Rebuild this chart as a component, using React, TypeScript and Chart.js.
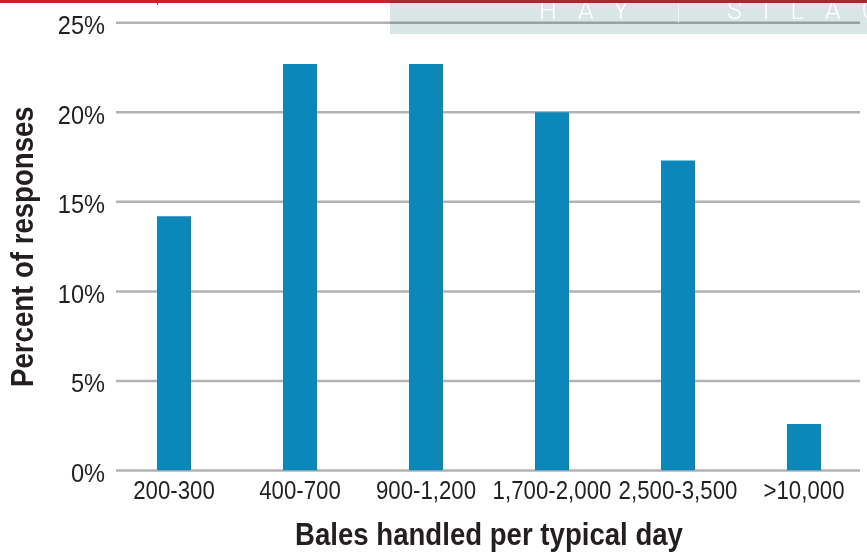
import React, { useEffect, useRef } from "react";
import { Chart, registerables } from "chart.js";

Chart.register(...registerables);

const categories = ["200-300", "400-700", "900-1,200", "1,700-2,000", "2,500-3,500", ">10,000"];
const responsePercent = [14.2, 22.7, 22.7, 20.0, 17.3, 2.6];
const yTickValues = [0, 5, 10, 15, 20, 25];
const yAxisTitle = "Percent of responses";
const xAxisTitle = "Bales handled per typical day";
const headerLeft = "HAY";
const headerRight = "SILAGE";

const FONT = "'Liberation Sans', Arial, sans-serif";
const SQUASH = 0.89;

const decorPlugin = {
  id: "decor",
  beforeDatasetsDraw(chart: any) {
    const { ctx, chartArea, scales } = chart;
    const y = scales.y;
    ctx.save();
    ctx.strokeStyle = "#b2b2b5";
    ctx.lineWidth = 2.5;
    y.ticks.forEach((t: any) => {
      const py = y.getPixelForValue(t.value);
      ctx.beginPath();
      ctx.moveTo(chartArea.left + 5, py);
      ctx.lineTo(chartArea.right - 7, py);
      ctx.stroke();
    });
    ctx.restore();
  },
  afterDraw(chart: any) {
    const { ctx, width } = chart;
    const plainFill = (ctx as any).__plainFillText || ctx.fillText.bind(ctx);
    ctx.save();
    ctx.globalCompositeOperation = "multiply";
    ctx.fillStyle = "#d8e6e5";
    ctx.fillRect(390, 0, width - 390, 34);
    ctx.globalCompositeOperation = "source-over";
    ctx.fillStyle = "#ffffff";
    ctx.font = "300 25px Roboto, 'Liberation Sans', sans-serif";
    (ctx as any).letterSpacing = "21px";
    ctx.textBaseline = "alphabetic";
    ctx.textAlign = "left";
    plainFill(headerLeft, 539, 18.5);
    plainFill(headerRight, 727, 18.5);
    (ctx as any).letterSpacing = "0px";
    ctx.strokeStyle = "rgba(255,255,255,0.55)";
    ctx.lineWidth = 1;
    ctx.beginPath();
    ctx.moveTo(678.5, 0);
    ctx.lineTo(678.5, 23);
    ctx.stroke();
    ctx.fillStyle = "#c4262e";
    ctx.fillRect(0, 0, 390, 3);
    ctx.fillRect(157, 0, 1, 5);
    ctx.fillStyle = "#a32a2f";
    ctx.fillRect(390, 0, width - 390, 3);
    ctx.restore();
  },
};

export default function App() {
  const canvasRef = useRef<HTMLCanvasElement | null>(null);

  useEffect(() => {
    const canvas = canvasRef.current;
    if (!canvas) return;
    const c2d = canvas.getContext("2d") as any;
    const plainFill = c2d.fillText.bind(c2d);
    c2d.__plainFillText = plainFill;
    // condensed look: squeeze all chart text horizontally around its anchor
    c2d.fillText = (text: string, x: number, y: number, maxWidth?: number) => {
      c2d.save();
      c2d.translate(x, y);
      c2d.scale(SQUASH, 1);
      if (maxWidth !== undefined && maxWidth !== null) plainFill(text, 0, 0, maxWidth / SQUASH);
      else plainFill(text, 0, 0);
      c2d.restore();
    };

    const chart = new Chart(canvas, {
      type: "bar",
      data: {
        labels: categories,
        datasets: [
          {
            data: responsePercent,
            backgroundColor: "#0b87b9",
            borderWidth: 0,
            categoryPercentage: 1,
            barPercentage: 0.27,
          },
        ],
      },
      options: {
        animation: false,
        responsive: true,
        maintainAspectRatio: false,
        layout: { padding: { top: 22.7, left: 0, right: 0, bottom: 0 } },
        plugins: { legend: { display: false }, tooltip: { enabled: false } },
        scales: {
          x: {
            grid: { display: false, drawTicks: false },
            border: { display: false },
            ticks: {
              color: "#231f20",
              font: { family: FONT, size: 25 },
              padding: 7,
              maxRotation: 0,
              minRotation: 0,
              autoSkip: false,
            },
            title: {
              display: true,
              text: xAxisTitle,
              color: "#231f20",
              font: { family: FONT, size: 31, weight: "bold", lineHeight: 1 },
              padding: { top: 0, bottom: 0.5 },
            },
            afterFit(scale: any) {
              scale.height = 81.5;
            },
          },
          y: {
            min: 0,
            max: 25,
            grid: { display: false, drawTicks: false },
            border: { display: false },
            afterBuildTicks(scale: any) {
              scale.ticks = yTickValues.map((v) => ({ value: v }));
            },
            ticks: {
              color: "#231f20",
              font: { family: FONT, size: 26.5 },
              padding: 6,
              labelOffset: 4,
              callback: (v: any) => v + "%",
            },
            title: {
              display: true,
              text: yAxisTitle,
              color: "#231f20",
              font: { family: FONT, size: 31, weight: "bold", lineHeight: 1 },
              padding: { top: 9, bottom: 0 },
            },
            afterFit(scale: any) {
              scale.width = 111;
            },
          },
        },
      },
      plugins: [decorPlugin],
    });
    return () => {
      chart.destroy();
      c2d.fillText = plainFill;
    };
  }, []);

  return (
    <div style={{ position: "fixed", left: 0, top: 0, width: 867, height: 552, background: "#ffffff" }}>
      <canvas ref={canvasRef} />
    </div>
  );
}
